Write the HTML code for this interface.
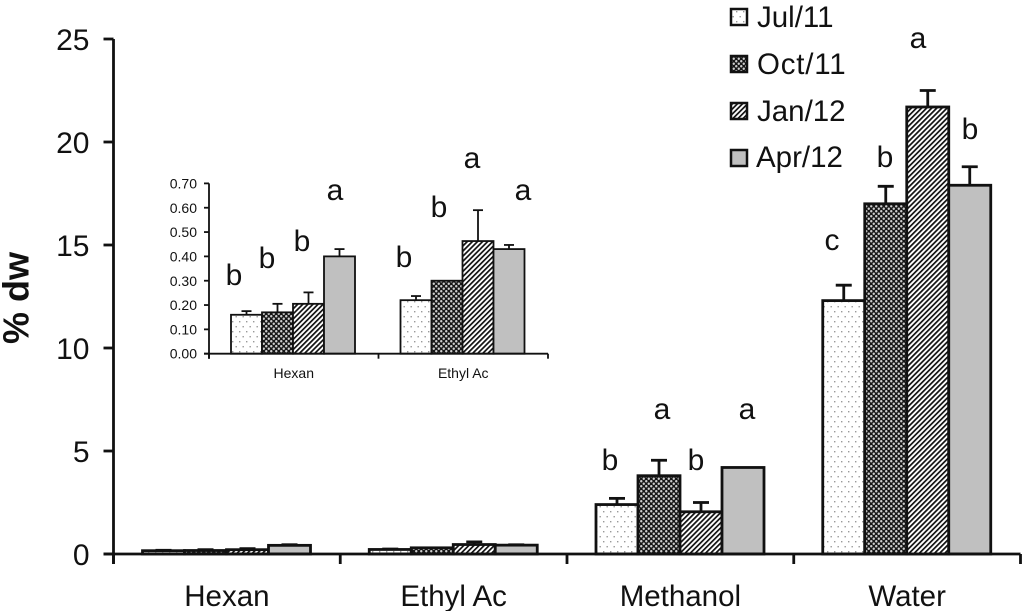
<!DOCTYPE html>
<html lang="en">
<head>
<meta charset="utf-8">
<title>% dw by solvent and sampling date</title>
<style>
html,body{margin:0;padding:0;background:#fff;}
body{width:1024px;height:611px;overflow:hidden;}
svg{display:block;filter:blur(0.35px);}
text{font-family:"Liberation Sans",sans-serif;fill:#111;}
</style>
</head>
<body>
<svg id="chart" xmlns="http://www.w3.org/2000/svg" width="1024" height="611" viewBox="0 0 1024 611">
  <defs>
    <pattern id="pat-jul" patternUnits="userSpaceOnUse" width="7" height="10">
      <rect width="7" height="10" fill="#fff"/>
      <rect x="1" y="1" width="1.4" height="1.4" fill="#999"/>
      <rect x="4.5" y="6" width="1.4" height="1.4" fill="#999"/>
    </pattern>
    <pattern id="pat-oct" patternUnits="userSpaceOnUse" width="5" height="5">
      <rect width="5" height="5" fill="#161616"/>
      <circle cx="1.25" cy="1.25" r="1.2" fill="#cfcfcf"/>
      <circle cx="3.75" cy="3.75" r="1.2" fill="#cfcfcf"/>
    </pattern>
    <pattern id="pat-jan" patternUnits="userSpaceOnUse" width="3.6" height="3.6" patternTransform="rotate(45)">
      <rect width="3.6" height="3.6" fill="#fff"/>
      <rect width="1.7" height="3.6" fill="#111"/>
    </pattern>
  </defs>

  <g id="main-plot"></g>
  <g id="inset-plot"></g>

  <text transform="translate(28.5,298) rotate(-90)" text-anchor="middle" font-size="36" font-weight="bold">% dw</text>

  <g font-size="30" text-anchor="middle">
    <text x="610" y="470">b</text>
    <text x="662" y="419">a</text>
    <text x="696" y="470">b</text>
    <text x="747" y="419">a</text>
    <text x="832" y="250">c</text>
    <text x="885" y="167">b</text>
    <text x="918" y="48">a</text>
    <text x="970" y="139">b</text>
  </g>

  <g font-size="30" text-anchor="middle">
    <text x="234" y="285">b</text>
    <text x="267" y="268">b</text>
    <text x="302" y="251">b</text>
    <text x="335" y="200">a</text>
    <text x="404" y="267">b</text>
    <text x="439" y="217">b</text>
    <text x="472" y="168">a</text>
    <text x="523" y="200">a</text>
  </g>

  <g>
    <g>
      <rect x="731" y="9" width="16" height="16" fill="url(#pat-jul)" stroke="#111" stroke-width="2.5"/>
      <text x="757" y="27" font-size="29.5">Jul/11</text>
    </g>
    <g>
      <rect x="731" y="56" width="16" height="16" fill="url(#pat-oct)" stroke="#111" stroke-width="2.5"/>
      <text x="757" y="74" font-size="29.5" letter-spacing="0.8">Oct/11</text>
    </g>
    <g>
      <rect x="731" y="103" width="16" height="16" fill="url(#pat-jan)" stroke="#111" stroke-width="2.5"/>
      <text x="757" y="121" font-size="29.5">Jan/12</text>
    </g>
    <g>
      <rect x="731" y="150" width="16" height="16" fill="#c0c0c0" stroke="#111" stroke-width="2.5"/>
      <text x="756" y="167" font-size="29.5">Apr/12</text>
    </g>
  </g>
</svg>

<script>
// ---- Main chart data ----
var mainCategories = ['Hexan', 'Ethyl Ac', 'Methanol', 'Water'];
var mainTicks = [0, 5, 10, 15, 20, 25];
var mainJul = [0.16, 0.22, 2.4, 12.3];
var mainOct = [0.17, 0.30, 3.8, 17.0];
var mainJan = [0.21, 0.46, 2.05, 21.7];
var mainApr = [0.42, 0.43, 4.2, 17.9];
var mainJulErr = [0.02, 0.02, 0.3, 0.75];
var mainOctErr = [0.04, 0, 0.75, 0.85];
var mainJanErr = [0.05, 0.13, 0.45, 0.8];
var mainAprErr = [0.03, 0.02, 0, 0.9];

// ---- Inset chart data ----
var insetCategories = ['Hexan', 'Ethyl Ac'];
var insetTicks = ['0.00', '0.10', '0.20', '0.30', '0.40', '0.50', '0.60', '0.70'];
var insetJul = [0.16, 0.22];
var insetOct = [0.17, 0.30];
var insetJan = [0.205, 0.463];
var insetApr = [0.40, 0.43];
var insetJulErr = [0.015, 0.017];
var insetOctErr = [0.035, 0];
var insetJanErr = [0.047, 0.127];
var insetAprErr = [0.03, 0.017];

var SVG_NS = 'http://www.w3.org/2000/svg';
var seriesNames = ['jul-11', 'oct-11', 'jan-12', 'apr-12'];
var seriesFills = ['url(#pat-jul)', 'url(#pat-oct)', 'url(#pat-jan)', '#c0c0c0'];

function make(parent, tag, attrs) {
  var el = document.createElementNS(SVG_NS, tag);
  for (var k in attrs) { el.setAttribute(k, attrs[k]); }
  parent.appendChild(el);
  return el;
}

function drawLine(parent, name, x1, y1, x2, y2, sw) {
  var el = make(parent, 'line', { x1: x1, y1: y1, x2: x2, y2: y2, stroke: '#111', 'stroke-width': sw });
  
  
  return el;
}

function drawChart(parent, cfg) {
  function yScale(v) { return cfg.y0 - (v / cfg.yMax) * (cfg.y0 - cfg.yTop); }
  function catLeft(i) { return cfg.x0 + i * cfg.catW; }
  var i, s;

  // Bars and error bars are drawn before the axes so the axis line sits on top.
  for (i = 0; i < cfg.categories.length; i++) {
    for (s = 0; s < cfg.values.length; s++) {
      var v = cfg.values[s][i];
      var e = cfg.errors[s][i];
      var bx = catLeft(i) + cfg.pad + s * cfg.barW;
      var cx = bx + cfg.barW / 2;
      if (e > 0) {
        var errTop = yScale(v + e);
        drawLine(parent, cfg.prefix + 'error-stem-' + i + '-' + seriesNames[s], cx, yScale(v), cx, errTop, cfg.sw);
        drawLine(parent, cfg.prefix + 'error-cap-' + i + '-' + seriesNames[s], cx - cfg.cap, errTop, cx + cfg.cap, errTop, cfg.sw);
      }
      var bar = make(parent, 'rect', {
        x: bx, y: yScale(v), width: cfg.barW, height: cfg.y0 - yScale(v),
        fill: seriesFills[s], stroke: '#111', 'stroke-width': cfg.sw
      });
      
      
    }
  }

  // Axes
  drawLine(parent, cfg.prefix + 'y-axis', cfg.x0, yScale(cfg.yMax), cfg.x0, cfg.y0 + cfg.tickLen, cfg.sw);
  drawLine(parent, cfg.prefix + 'x-axis', cfg.x0 - cfg.tickLen, cfg.y0, catLeft(cfg.categories.length), cfg.y0, cfg.sw);

  // Y ticks and labels
  for (i = 0; i < cfg.ticks.length; i++) {
    var t = parseFloat(cfg.ticks[i]);
    var ty = yScale(t);
    drawLine(parent, cfg.prefix + 'y-tick-' + i, cfg.x0 - cfg.tickLen, ty, cfg.x0, ty, cfg.sw);
    var lab = make(parent, 'text', {
      x: cfg.x0 + cfg.labelDx, y: ty + cfg.tickFont * 0.36, 'text-anchor': 'end', 'font-size': cfg.tickFont
    });
    
    
    lab.textContent = cfg.ticks[i];
  }

  // Category ticks and labels
  for (i = 0; i <= cfg.categories.length; i++) {
    drawLine(parent, cfg.prefix + 'x-tick-' + i, catLeft(i), cfg.y0, catLeft(i), cfg.y0 + cfg.tickLen, cfg.sw);
  }
  for (i = 0; i < cfg.categories.length; i++) {
    var cl = make(parent, 'text', {
      x: catLeft(i) + cfg.catW / 2, y: cfg.catY, 'text-anchor': 'middle',
      'font-size': cfg.catFont
    });
    
    
    cl.textContent = cfg.categories[i];
  }
}

drawChart(document.getElementById('main-plot'), {
  prefix: 'main-',
  categories: mainCategories,
  ticks: mainTicks,
  values: [mainJul, mainOct, mainJan, mainApr],
  errors: [mainJulErr, mainOctErr, mainJanErr, mainAprErr],
  x0: 113.5, catW: 226.75, pad: 29, barW: 42,
  y0: 554, yTop: 39, yMax: 25,
  sw: 2.8, cap: 8, tickLen: 10,
  tickFont: 30, labelDx: -24,
  catY: 606, catFont: 29.5
});

drawChart(document.getElementById('inset-plot'), {
  prefix: 'inset-',
  categories: insetCategories,
  ticks: insetTicks,
  values: [insetJul, insetOct, insetJan, insetApr],
  errors: [insetJulErr, insetOctErr, insetJanErr, insetAprErr],
  x0: 209, catW: 169.5, pad: 22, barW: 31,
  y0: 353.7, yTop: 183.4, yMax: 0.7,
  sw: 1.8, cap: 5, tickLen: 5,
  tickFont: 14, labelDx: -12,
  catY: 378, catFont: 14
});
</script>
</body>
</html>
